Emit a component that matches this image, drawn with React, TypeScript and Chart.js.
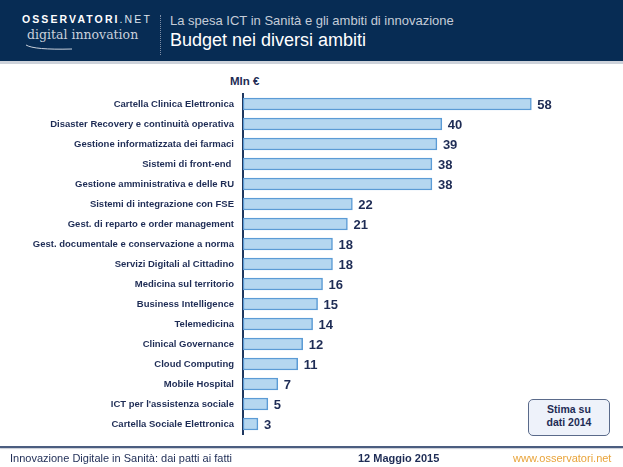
import React, { useEffect, useRef } from "react";
import { Chart, registerables } from "chart.js";

Chart.register(...registerables);

const categories = [
  "Cartella Clinica Elettronica",
  "Disaster Recovery e continuità operativa",
  "Gestione informatizzata dei farmaci",
  "Sistemi di front-end ",
  "Gestione amministrativa e delle RU",
  "Sistemi di integrazione con FSE",
  "Gest. di reparto e order management",
  "Gest. documentale e conservazione a norma",
  "Servizi Digitali al Cittadino",
  "Medicina sul territorio",
  "Business Intelligence",
  "Telemedicina",
  "Clinical Governance",
  "Cloud Computing",
  "Mobile Hospital",
  "ICT per l'assistenza sociale",
  "Cartella Sociale Elettronica",
];

const budget = [58, 40, 39, 38, 38, 22, 21, 18, 18, 16, 15, 14, 12, 11, 7, 5, 3];

const NAVY = "#1e2c55";

const valueLabels = {
  id: "valueLabels",
  afterDatasetsDraw(chart: any) {
    const ctx = chart.ctx;
    const meta = chart.getDatasetMeta(0);
    ctx.save();
    ctx.font = "bold 13px 'Liberation Sans', Arial, sans-serif";
    ctx.fillStyle = NAVY;
    ctx.textBaseline = "middle";
    ctx.textAlign = "left";
    meta.data.forEach((bar: any, i: number) => {
      ctx.fillText(String(chart.data.datasets[0].data[i]), bar.x + 6, bar.y + 1);
    });
    ctx.restore();
  },
};

export default function App() {
  const ref = useRef<HTMLCanvasElement | null>(null);

  useEffect(() => {
    document.body.style.margin = "0";
    if (!ref.current) return;
    const chart = new Chart(ref.current, {
      type: "bar",
      data: {
        labels: categories,
        datasets: [
          {
            data: budget,
            backgroundColor: "#b5d7f0",
            borderColor: "#5b9bd5",
            borderWidth: 1.5,
            borderSkipped: false,
            barThickness: 12,
          },
        ],
      },
      options: {
        indexAxis: "y",
        responsive: false,
        animation: false,
        events: [],
        layout: { padding: { left: 0, right: 32, top: 94, bottom: 33 } },
        plugins: {
          legend: { display: false },
          tooltip: { enabled: false },
        },
        scales: {
          x: { display: false, min: 0, max: 70 },
          y: {
            afterFit(scale: any) {
              scale.width = 243;
            },
            grid: { display: false, drawTicks: false },
            border: { display: true, color: "#1f3860", width: 2 },
            ticks: {
              padding: 9,
              color: NAVY,
              font: { family: "'Liberation Sans', Arial, sans-serif", size: 9.5, weight: "bold" },
            },
          },
        },
      },
      plugins: [valueLabels],
    });
    return () => chart.destroy();
  }, []);

  return (
    <div style={{ position: "fixed", left: 0, top: 0, width: 623, height: 467, background: "#ffffff", overflow: "hidden", fontFamily: "'Liberation Sans', Arial, sans-serif" }}>
      <div style={{ position: "absolute", left: 0, top: 0, width: 623, height: 61, background: "#072c54", borderBottom: "3px solid #cdd2da" }} />
      <div style={{ position: "absolute", left: 22, top: 13, color: "#ffffff", fontSize: 10.5, fontWeight: "bold", letterSpacing: 2.1, whiteSpace: "nowrap" }}>
        OSSERVATORI<span style={{ fontWeight: "normal", color: "#dfe5ee" }}>.NET</span>
      </div>
      <div style={{ position: "absolute", left: 27, top: 27, color: "#c9d0db", fontSize: 12.5, fontFamily: "'DejaVu Serif', 'Liberation Serif', serif", whiteSpace: "nowrap" }}>
        digital innovation
      </div>
      <svg style={{ position: "absolute", left: 24, top: 42 }} width="50" height="10">
        <path d="M2 3 Q 10 8 48 7" stroke="#c9d0db" strokeWidth="1" fill="none" />
      </svg>
      <div style={{ position: "absolute", left: 160, top: 15, height: 40, borderLeft: "1px dotted #7f8ea6" }} />
      <div style={{ position: "absolute", left: 170, top: 13, color: "#c5ccd8", fontSize: 13, whiteSpace: "nowrap" }}>
        La spesa ICT in Sanità e gli ambiti di innovazione
      </div>
      <div style={{ position: "absolute", left: 170, top: 30, color: "#ffffff", fontSize: 18, whiteSpace: "nowrap" }}>
        Budget nei diversi ambiti
      </div>

      <div style={{ position: "absolute", left: 230, top: 75, color: NAVY, fontSize: 11.5, fontWeight: "bold", whiteSpace: "nowrap" }}>
        Mln €
      </div>

      <canvas ref={ref} width={623} height={467} style={{ position: "absolute", left: 0, top: 0 }} />

      <div style={{ position: "absolute", left: 528, top: 399, width: 80, height: 32, border: "1.5px solid #5a6a8a", borderRadius: 5, background: "#eef2fa", color: NAVY, fontSize: 10.5, fontWeight: "bold", textAlign: "center", lineHeight: "13px", paddingTop: 3, boxSizing: "content-box" }}>
        Stima su<br />dati 2014
      </div>

      <div style={{ position: "absolute", left: 0, top: 446, width: 623, height: 2, background: "#4b5d80", boxShadow: "0 1px 1px #c8cdd6" }} />
      <div style={{ position: "absolute", left: 10, top: 452, color: NAVY, fontSize: 11, whiteSpace: "nowrap" }}>
        Innovazione Digitale in Sanità: dai patti ai fatti
      </div>
      <div style={{ position: "absolute", left: 358, top: 452, color: NAVY, fontSize: 11, fontWeight: "bold", whiteSpace: "nowrap" }}>
        12 Maggio 2015
      </div>
      <div style={{ position: "absolute", left: 513, top: 452, color: "#e9a43a", fontSize: 11, whiteSpace: "nowrap" }}>
        www.osservatori.net
      </div>
    </div>
  );
}
